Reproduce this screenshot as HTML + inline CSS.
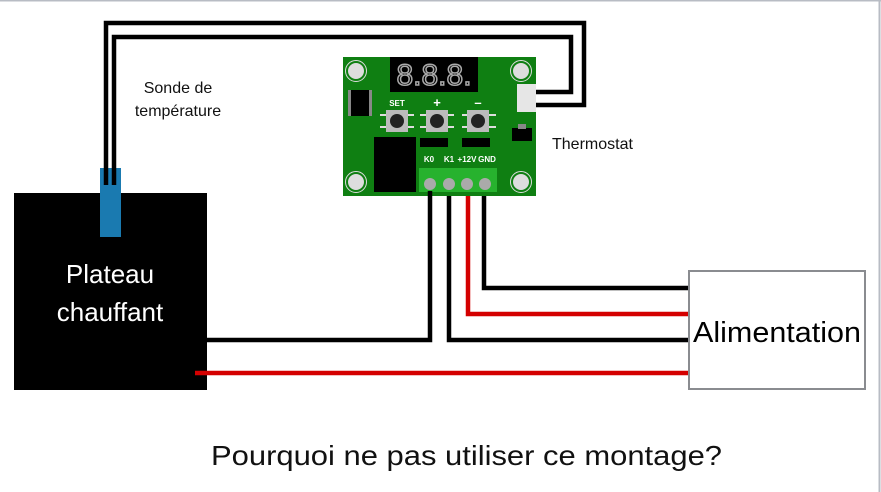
<!DOCTYPE html>
<html><head><meta charset="utf-8"><style>
html,body{margin:0;padding:0;background:#fff;}
svg{display:block;}
text{font-family:"Liberation Sans",sans-serif;}
</style></head><body>
<svg width="881" height="492" viewBox="0 0 881 492" xmlns="http://www.w3.org/2000/svg">
<rect x="0" y="0" width="881" height="492" fill="#fff"/>
<line x1="0" y1="0.5" x2="881" y2="0.5" stroke="#b8bcc4" stroke-width="2"/>
<line x1="879.5" y1="0" x2="879.5" y2="492" stroke="#b8bcc4" stroke-width="2"/>

<!-- probe wires -->
<polyline points="106,170 106,23 584,23 584,105 528,105" fill="none" stroke="#000" stroke-width="4.5"/>
<polyline points="114,170 114,37 571,37 571,92 528,92" fill="none" stroke="#000" stroke-width="4.5"/>

<!-- heater -->
<rect x="14" y="193" width="193" height="197" fill="#000"/>
<rect x="100" y="168" width="21" height="69" fill="#1a7ab0"/>
<line x1="106" y1="168" x2="106" y2="185" stroke="#000" stroke-width="4.5"/>
<line x1="114" y1="168" x2="114" y2="185" stroke="#000" stroke-width="4.5"/>
<text x="110" y="283" font-size="26" fill="#fff" text-anchor="middle">Plateau</text>
<text x="110" y="321" font-size="26" fill="#fff" text-anchor="middle">chauffant</text>

<text x="178" y="93" font-size="16" fill="#111" text-anchor="middle">Sonde de</text>
<text x="178" y="116" font-size="16" fill="#111" text-anchor="middle">température</text>

<!-- board -->
<rect x="343" y="57" width="193" height="139" fill="#0f7f12"/>
<rect x="390" y="57" width="88" height="35" fill="#000"/>
<text x="434" y="85" font-size="30" fill="none" stroke="#aaa" stroke-width="1.5" text-anchor="middle" font-family="Liberation Mono">8.8.8.</text>
<circle cx="356" cy="71" r="9" fill="#ddd" stroke="#0f7f12" stroke-width="2"/><circle cx="356" cy="71" r="10.5" fill="none" stroke="#ddd" stroke-width="1"/>
<circle cx="521" cy="71" r="9" fill="#ddd" stroke="#0f7f12" stroke-width="2"/><circle cx="521" cy="71" r="10.5" fill="none" stroke="#ddd" stroke-width="1"/>
<circle cx="356" cy="182" r="9" fill="#ddd" stroke="#0f7f12" stroke-width="2"/><circle cx="356" cy="182" r="10.5" fill="none" stroke="#ddd" stroke-width="1"/>
<circle cx="521" cy="182" r="9" fill="#ddd" stroke="#0f7f12" stroke-width="2"/><circle cx="521" cy="182" r="10.5" fill="none" stroke="#ddd" stroke-width="1"/>
<rect x="348" y="90" width="24" height="26" fill="#888"/><rect x="351" y="90" width="18" height="26" fill="#000"/>
<rect x="517" y="84" width="19" height="28" fill="#e6e6e6"/>
<rect x="512" y="128" width="20" height="13" fill="#000"/><rect x="518" y="124" width="8" height="5" fill="#888"/>
<text x="397" y="106" font-size="8" fill="#fff" font-weight="bold" text-anchor="middle">SET</text>
<text x="437" y="107" font-size="13" fill="#fff" font-weight="bold" text-anchor="middle">+</text>
<text x="478" y="107" font-size="13" fill="#fff" font-weight="bold" text-anchor="middle">–</text>
<g fill="#ddd"><rect x="380" y="114" width="34" height="2"/><rect x="380" y="126" width="34" height="2"/>
<rect x="420" y="114" width="34" height="2"/><rect x="420" y="126" width="34" height="2"/>
<rect x="462" y="114" width="34" height="2"/><rect x="462" y="126" width="34" height="2"/></g>
<rect x="386" y="110" width="22" height="22" fill="#bbb"/><circle cx="397" cy="121" r="7" fill="#222"/>
<rect x="426" y="110" width="22" height="22" fill="#bbb"/><circle cx="437" cy="121" r="7" fill="#222"/>
<rect x="467" y="110" width="22" height="22" fill="#bbb"/><circle cx="478" cy="121" r="7" fill="#222"/>
<rect x="420" y="138" width="28" height="9" fill="#000"/><rect x="462" y="138" width="28" height="9" fill="#000"/>
<rect x="374" y="137" width="42" height="55" fill="#000"/>
<text x="429" y="162" font-size="8" fill="#fff" font-weight="bold" text-anchor="middle">K0</text>
<text x="449" y="162" font-size="8" fill="#fff" font-weight="bold" text-anchor="middle">K1</text>
<text x="467" y="162" font-size="8" fill="#fff" font-weight="bold" text-anchor="middle">+12V</text>
<text x="487" y="162" font-size="8" fill="#fff" font-weight="bold" text-anchor="middle">GND</text>
<rect x="419" y="168" width="78" height="24" fill="#27b22e"/>
<circle cx="430" cy="184" r="6" fill="#aaa"/><circle cx="449" cy="184" r="6" fill="#aaa"/>
<circle cx="467" cy="184" r="6" fill="#aaa"/><circle cx="485" cy="184" r="6" fill="#aaa"/>

<text x="552" y="149" font-size="16" fill="#111">Thermostat</text>

<!-- wiring -->
<polyline points="430,191 430,340 207,340" fill="none" stroke="#000" stroke-width="4.5"/>
<polyline points="449,196 449,340 689,340" fill="none" stroke="#000" stroke-width="4.5"/>
<polyline points="468,196 468,314 689,314" fill="none" stroke="#d40000" stroke-width="4.5"/>
<polyline points="484,196 484,288 689,288" fill="none" stroke="#000" stroke-width="4.5"/>
<line x1="195" y1="373" x2="689" y2="373" stroke="#d40000" stroke-width="4.5"/>

<rect x="689" y="271" width="176" height="118" fill="#fff" stroke="#8a8c90" stroke-width="2"/>
<text x="777" y="342" font-size="29" fill="#000" text-anchor="middle" textLength="168" lengthAdjust="spacingAndGlyphs">Alimentation</text>

<text x="211" y="465" font-size="28" fill="#111" textLength="511" lengthAdjust="spacingAndGlyphs">Pourquoi ne pas utiliser ce montage?</text>
</svg>
</body></html>
